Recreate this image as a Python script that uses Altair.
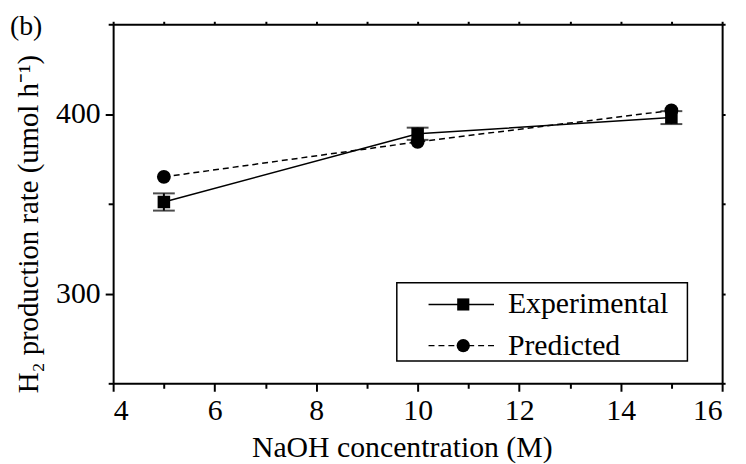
import altair as alt
import pandas as pd

conc = [5, 10, 15]
experimental = [351, 389, 398]
exp_err = [4.8, 3.4, 3.6]
predicted = [365, 384.5, 402]

x_major = [4, 6, 8, 10, 12, 14, 16]
x_minor = [5, 7, 9, 11, 13, 15]
y_major = [300, 400]
y_minor = [250, 350, 450]

df = pd.DataFrame({"x": conc, "exp": experimental, "err": exp_err, "pred": predicted})
df["lo"] = df["exp"] - df["err"]
df["hi"] = df["exp"] + df["err"]

FONT = "Liberation Serif"
FS = 30
xs = alt.Scale(domain=[4, 16], nice=False, zero=False)
ys = alt.Scale(domain=[250, 450], nice=False, zero=False)

base = alt.Chart(df)

ax_common = dict(domainColor="black", domainWidth=2, tickColor="black", tickWidth=2,
                 grid=False, labelFont=FONT, labelColor="black", labelFontSize=FS,
                 titleFont=FONT, titleColor="black", titleFontSize=FS, titleFontWeight="normal")
ax_nodomain = {k: v for k, v in ax_common.items() if k not in ("domainColor", "domainWidth")}

main_line = base.mark_line(color="black", strokeWidth=1.5).encode(
    x=alt.X("x:Q", scale=xs, axis=alt.Axis(values=x_major, orient="bottom", tickSize=8, labelPadding=4,
                                           title="NaOH concentration (M)", titleX=291, titleY=74,
                                           titleBaseline="alphabetic", titleAlign="center",
                                           format="d", **ax_common)),
    y=alt.Y("exp:Q", scale=ys, axis=alt.Axis(values=y_major, orient="left", tickSize=8, labelPadding=5,
                                             title="H₂ production rate (umol h⁻¹)", titleX=-76, titleY=201,
                                             titleBaseline="alphabetic", titleAlign="center", titleAngle=270,
                                             format="d", **{**ax_common, "titleFontSize": 29})),
)

minor = base.mark_point(opacity=0).encode(
    x=alt.X("x:Q", scale=xs, axis=alt.Axis(values=x_minor, orient="bottom", tickSize=5, labels=False,
                                           domain=False, title=None, **ax_nodomain)),
    y=alt.Y("exp:Q", scale=ys, axis=alt.Axis(values=y_minor, orient="left", tickSize=5, labels=False,
                                             domain=False, title=None, **ax_nodomain)),
)

mirror = base.mark_point(opacity=0).encode(
    x=alt.X("x:Q", scale=xs, axis=alt.Axis(values=x_major + x_minor, orient="top", tickSize=3, labels=False,
                                           title=None, **ax_common)),
    y=alt.Y("exp:Q", scale=ys, axis=alt.Axis(values=y_major + y_minor, orient="right", tickSize=3, labels=False,
                                             title=None, **ax_common)),
)

X = alt.X("x:Q", scale=xs, axis=None)
pred_line = base.mark_line(color="black", strokeWidth=1.5, strokeDash=[6, 4]).encode(
    x=X, y=alt.Y("pred:Q", scale=ys, axis=None))
err_rule = base.mark_rule(color="black", strokeWidth=2).encode(
    x=X, y=alt.Y("lo:Q", scale=ys, axis=None), y2="hi:Q")
err_lo = base.mark_tick(color="black", thickness=2, size=22, orient="horizontal").encode(
    x=X, y=alt.Y("lo:Q", scale=ys, axis=None))
err_hi = base.mark_tick(color="black", thickness=2, size=22, orient="horizontal").encode(
    x=X, y=alt.Y("hi:Q", scale=ys, axis=None))
exp_pts = base.mark_point(shape="square", filled=True, color="black", size=160, opacity=1).encode(
    x=X, y=alt.Y("exp:Q", scale=ys, axis=None))
pred_pts = base.mark_point(shape="circle", filled=True, color="black", size=196, opacity=1).encode(
    x=X, y=alt.Y("pred:Q", scale=ys, axis=None))

# legend (decoration, pixel positions)
one = pd.DataFrame({"a": [0]})
lb = alt.Chart(one)
leg_box = lb.mark_rect(fill="white", stroke="black", strokeWidth=1.5).encode(
    x=alt.value(286), x2=alt.value(579), y=alt.value(260.5), y2=alt.value(339.5))
leg_l1 = lb.mark_rule(color="black", strokeWidth=1.5).encode(
    x=alt.value(318), x2=alt.value(384), y=alt.value(282.5))
leg_l2 = lb.mark_rule(color="black", strokeWidth=1.5, strokeDash=[6, 4]).encode(
    x=alt.value(318), x2=alt.value(384), y=alt.value(324))
leg_p1 = lb.mark_point(shape="square", filled=True, color="black", size=150, opacity=1).encode(
    x=alt.value(353), y=alt.value(282.5))
leg_p2 = lb.mark_point(shape="circle", filled=True, color="black", size=180, opacity=1).encode(
    x=alt.value(353), y=alt.value(324))
leg_t1 = lb.mark_text(text="Experimental", font=FONT, fontSize=FS, align="left", baseline="middle", color="black").encode(
    x=alt.value(398), y=alt.value(282.5))
leg_t2 = lb.mark_text(text="Predicted", font=FONT, fontSize=FS, align="left", baseline="middle", color="black").encode(
    x=alt.value(398), y=alt.value(324))
panel = lb.mark_text(text="(b)", font=FONT, fontSize=28, align="left", baseline="alphabetic", color="black").encode(
    x=alt.value(-104), y=alt.value(11))

chart = alt.layer(
    main_line, minor, mirror, pred_line, err_rule, err_lo, err_hi, exp_pts, pred_pts,
    leg_box, leg_l1, leg_l2, leg_p1, leg_p2, leg_t1, leg_t2, panel,
).resolve_axis(x="independent", y="independent").properties(
    width=614, height=362,
    autosize=alt.AutoSizeParams(type="none"),
    padding={"left": 106, "top": 14.5, "right": 16, "bottom": 85},
).configure_view(stroke=None)

chart.save("out.html", embed_options={"renderer": "svg", "actions": False})
